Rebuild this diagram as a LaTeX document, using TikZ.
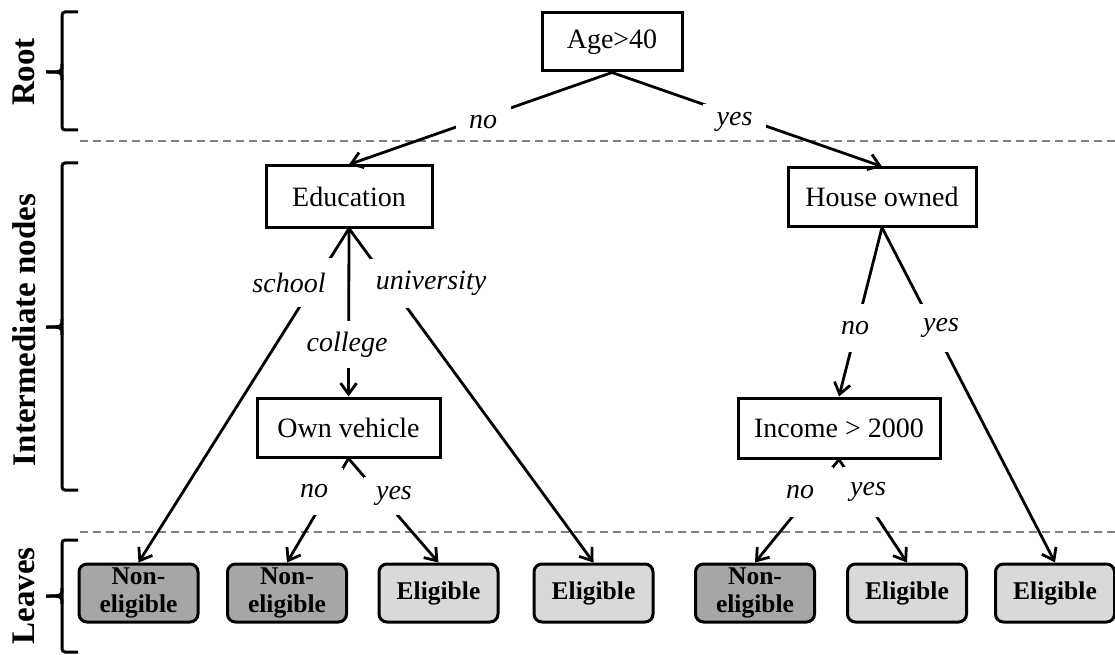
\documentclass[tikz,border=0pt]{standalone}
\usepackage{fontspec}
\setmainfont{Liberation Serif}
\usetikzlibrary{arrows.meta}
\definecolor{darkleaf}{HTML}{A6A6A6}
\definecolor{lightleaf}{HTML}{D9D9D9}
\begin{document}
\begin{tikzpicture}[x=1pt,y=-1pt,
  box/.style={draw, line width=3pt, fill=white, inner sep=0pt, font=\fontsize{28}{30}\selectfont},
  leaf/.style={draw, line width=3pt, rounded corners=8pt, minimum width=119pt, minimum height=58pt, inner sep=0pt, align=center, font=\fontsize{25.5}{28}\selectfont\bfseries},
  dark/.style={leaf, fill=darkleaf},
  light/.style={leaf, fill=lightleaf},
  arr/.style={line width=2.8pt, -{Straight Barb[length=11pt,width=16pt]}},
  lab/.style={fill=white, inner sep=0pt, font=\fontsize{28}{30}\selectfont\itshape},
  sepline/.style={gray, line width=1.5pt, dash pattern=on 8pt off 5pt},
  brc/.style={line width=3pt, rounded corners=3pt},
  side/.style={rotate=90, font=\fontsize{33}{35}\selectfont\bfseries}
]
\useasboundingbox (0,0) rectangle (1115,655);

% separators
\coordinate (s1a) at (80,141); \coordinate (s1b) at (1115,141);
\coordinate (s2a) at (80,532); \coordinate (s2b) at (1115,532);
\draw[sepline] (s1a) -- (s1b);
\draw[sepline] (s2a) -- (s2b);

% braces
\draw[brc] (78,12) -- (62,12) -- (62,130) -- (78,130);
\draw[brc] (62,64) .. controls (62,72) .. (46,72);
\draw[brc] (62,80) .. controls (62,72) .. (46,72);
\draw[brc] (78,163) -- (62,163) -- (62,490) -- (78,490);
\draw[brc] (62,319) .. controls (62,327) .. (46,327);
\draw[brc] (62,335) .. controls (62,327) .. (46,327);
\draw[brc] (78,540) -- (62,540) -- (62,652) -- (78,652);
\draw[brc] (62,588) .. controls (62,596) .. (46,596);
\draw[brc] (62,604) .. controls (62,596) .. (46,596);

\node[side] (troot) at (24,72) {Root};
\node[side] (tint) at (24,330) {Intermediate nodes};
\node[side] (tleaf) at (24,596) {Leaves};

% decision nodes
\node[box, minimum width=140pt, minimum height=58pt] (age) at (612,42) {Age>40};
\node[box, minimum width=166pt, minimum height=61pt] (edu) at (349,196.5) {Education};
\node[box, minimum width=188pt, minimum height=58pt] (house) at (882,197) {House owned};
\node[box, minimum width=183pt, minimum height=59pt] (veh) at (348.5,427.5) {Own vehicle};
\node[box, minimum width=202pt, minimum height=60pt] (inc) at (839,428) {Income > 2000};

% leaves
\node[dark] (l1) at (138.5,593) {Non-\\eligible};
\node[dark] (l2) at (287,593) {Non-\\eligible};
\node[light] (l3) at (438.5,593) {Eligible};
\node[light] (l4) at (593.5,593) {Eligible};
\node[dark] (l5) at (755,593) {Non-\\eligible};
\node[light] (l6) at (907,593) {Eligible};
\node[light] (l7) at (1055,593) {Eligible};

% connectors
\draw[arr] (age.south) -- (edu.north);
\draw[arr] (age.south) -- (house.north);
\draw[arr] (edu.south) -- (l1.north);
\draw[arr] (edu.south) -- (veh.north);
\draw[arr] (edu.south) -- (l4.north);
\draw[arr] (house.south) -- (inc.north);
\draw[arr] (house.south) -- (l7.north);
\draw[arr] (veh.south) -- (l2.north);
\draw[arr] (veh.south) -- (l3.north);
\draw[arr] (inc.south) -- (l5.north);
\draw[arr] (inc.south) -- (l6.north);

% labels
\node[lab, minimum width=55pt, minimum height=36pt] (tno) at (483,122) {no};
\node[lab, minimum width=63pt, minimum height=36pt] (tyes) at (734.5,122) {yes};
\node[lab, minimum width=86pt, minimum height=49pt] (tschool) at (289,282.5) {school};
\node[lab, minimum width=90pt, minimum height=47pt] (tcollege) at (347,344.5) {college};
\node[lab, minimum width=122pt, minimum height=49pt] (tuni) at (431,283.5) {university};
\node[lab, minimum width=40pt, minimum height=48pt] (hno) at (855,328) {no};
\node[lab, minimum width=44pt, minimum height=48pt] (hyes) at (941,328) {yes};
\node[lab, minimum width=58pt, minimum height=47pt] (vno) at (314,491.5) {no};
\node[lab, minimum width=60pt, minimum height=38pt] (vyes) at (394,496) {yes};
\node[lab, minimum width=66pt, minimum height=50pt] (ino) at (800,492) {no};
\node[lab, minimum width=50pt, minimum height=50pt] (iyes) at (868,492) {yes};
\end{tikzpicture}
\end{document}
